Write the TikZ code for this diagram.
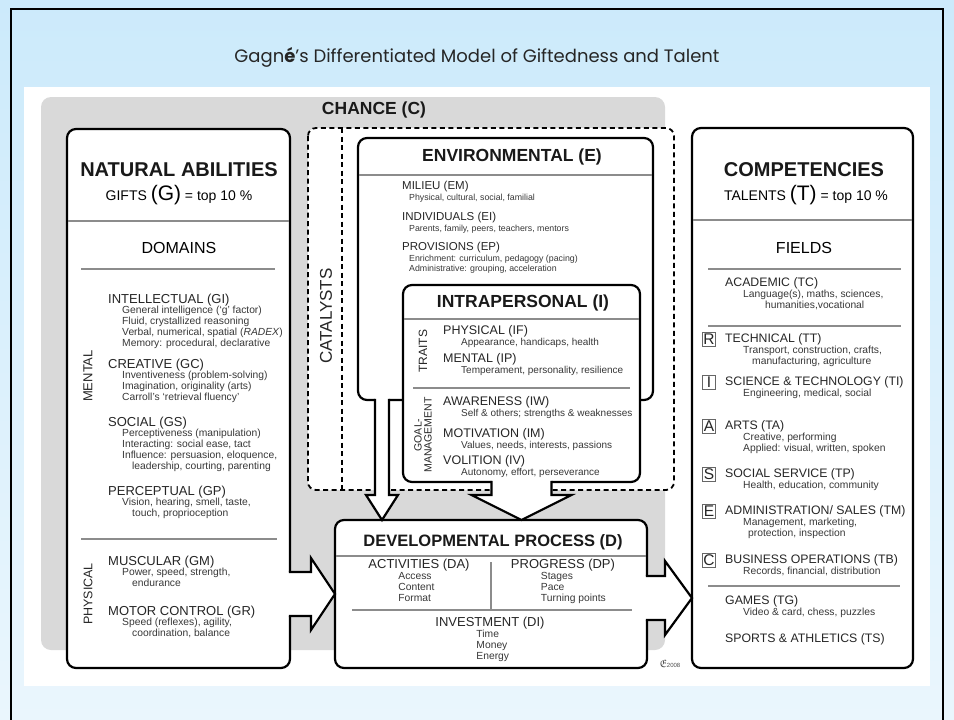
\documentclass[tikz,border=0pt]{standalone}
\usepackage{fontspec}
\usepackage{amssymb}
\setmainfont{Liberation Sans}
\newfontfamily\titlefont{Poppins}
\usetikzlibrary{positioning,calc}

\definecolor{skytop}{HTML}{CCEAFB}
\definecolor{skybottom}{HTML}{EAF6FD}

\tikzset{
  panelbox/.style={draw=black, line width=2.2pt, rounded corners=9pt, fill=white, inner sep=0, outer sep=0},
  seprule/.style={draw=black!45, line width=1.3pt},
  fullrule/.style={seprule, shorten <=1.1pt, shorten >=1.1pt},
  bigtitle/.style={font=\bfseries\fontsize{20}{22}\selectfont, text=black!90, inner sep=0},
  midtitle/.style={font=\bfseries\fontsize{17.5}{20}\selectfont, text=black!90, inner sep=0},
  grouphd/.style={font=\fontsize{13}{15}\selectfont, text=black!85, anchor=west, inner sep=0},
  fieldhd/.style={grouphd, font=\fontsize{12.3}{14}\selectfont},
  innerhd/.style={grouphd, font=\fontsize{12.5}{14}\selectfont},
  envhd/.style={grouphd, font=\fontsize{11.5}{13}\selectfont},
  detail/.style={font=\fontsize{10.3}{11}\selectfont, text=black!78, align=left, inner sep=0},
  finedetail/.style={font=\fontsize{8.8}{10.5}\selectfont, text=black!78, align=left, inner sep=0},
  sidelabel/.style={font=\fontsize{13}{14}\selectfont, text=black!85, rotate=90, inner sep=0},
  letterbox/.style={draw=black!60, line width=0.7pt, font=\fontsize{15.5}{15.5}\selectfont, inner sep=0, minimum width=12.5pt, minimum height=14pt, text=black!85},
  catdash/.style={line width=1.8pt, dash pattern=on 5pt off 3.5pt},
  blockarrow/.style={draw=black, line width=2.2pt, line join=miter},
}

\begin{document}
\begin{tikzpicture}[x=1pt, y=-1pt]
    % slide
    \useasboundingbox (0,0) rectangle (954,720);
    \shade[top color=skytop, bottom color=skybottom] (0,0) rectangle (954,720);
    \draw[line width=2pt] (11,720) -- (11,9) -- (943,9) -- (943,720);
    \node[font=\titlefont\fontsize{18}{21}\selectfont, text=black!85] (title) at (477,57) {Gagn\textbf{é}’s Differentiated Model of Giftedness and Talent};
    \fill[white] (24,87) rectangle (930,686);

    % Chance
    \fill[black!15, rounded corners=10pt] (41,97) rectangle (665,650);
    \node[midtitle] (chance) at (374,110) {CHANCE (C)};

    % Catalysts
    \filldraw[catdash, fill=white, rounded corners=8pt] (308,128) rectangle (674,490);
    \draw[catdash] (342,128) -- (342,490);
    \node[sidelabel, font=\fontsize{17}{18}\selectfont] (catalysts) at (326,316) {CATALYSTS};

    % boxes
    \node[panelbox, minimum width=295pt, minimum height=262pt] (en) at (505.5,269) {};
    \node[panelbox, minimum width=237pt, minimum height=197pt] (ip) at (521.5,383.5) {};
    \node[panelbox, minimum width=223pt, minimum height=539pt] (na) at (178.5,398.5) {};
    \node[panelbox, minimum width=221pt, minimum height=540pt] (co) at (802.5,398) {};
    \node[panelbox, minimum width=312pt, minimum height=148pt] (dv) at (491,594) {};

    % Natural abilities -> developmental process
    \coordinate (nx) at (na.east |- dv.west);
    \fill[white] ($(nx)+(-2.5,-22)$) -- ($(nx)+(21,-22)$) -- ($(nx)+(21,-36)$) -- (dv.west) -- ($(nx)+(21,36)$) -- ($(nx)+(21,22)$) -- ($(nx)+(-2.5,22)$) -- cycle;
    \draw[blockarrow] ($(nx)+(-1.1,-22)$) -- ($(nx)+(21,-22)$) -- ($(nx)+(21,-36)$) -- (dv.west) -- ($(nx)+(21,36)$) -- ($(nx)+(21,22)$) -- ($(nx)+(-1.1,22)$);

    % Developmental process -> competencies
    \coordinate (dx) at ($(dv.east)+(0,4)$);
    \coordinate (dt) at (co.west |- dx);
    \fill[white] ($(dx)+(-2.5,-22)$) -- ($(dx)+(18,-22)$) -- ($(dx)+(18,-37)$) -- (dt) -- ($(dx)+(18,37)$) -- ($(dx)+(18,22)$) -- ($(dx)+(-2.5,22)$) -- cycle;
    \draw[blockarrow] ($(dx)+(-1.1,-22)$) -- ($(dx)+(18,-22)$) -- ($(dx)+(18,-37)$) -- (dt) -- ($(dx)+(18,37)$) -- ($(dx)+(18,22)$) -- ($(dx)+(-1.1,22)$);

    % Environmental -> developmental process
    \coordinate (ex) at ($(en.south west)+(24,0)$);
    \coordinate (et) at (ex |- dv.north);
    \fill[white] ($(ex)+(-7,-2.5)$) -- ($(et)+(-7,-25)$) -- ($(et)+(-16,-25)$) -- (et) -- ($(et)+(16,-25)$) -- ($(et)+(7,-25)$) -- ($(ex)+(7,-2.5)$) -- cycle;
    \draw[blockarrow] ($(ex)+(-7,-1.1)$) -- ($(et)+(-7,-25)$) -- ($(et)+(-16,-25)$) -- (et) -- ($(et)+(16,-25)$) -- ($(et)+(7,-25)$) -- ($(ex)+(7,-1.1)$);

    % Intrapersonal -> developmental process
    \coordinate (ix) at (ip.south);
    \coordinate (it) at (ix |- dv.north);
    \fill[white] ($(ix)+(-30,-2.5)$) -- ($(it)+(-30,-25)$) -- ($(it)+(-50,-25)$) -- (it) -- ($(it)+(50,-25)$) -- ($(it)+(30,-25)$) -- ($(ix)+(30,-2.5)$) -- cycle;
    \draw[blockarrow] ($(ix)+(-30,-1.1)$) -- ($(it)+(-30,-25)$) -- ($(it)+(-50,-25)$) -- (it) -- ($(it)+(50,-25)$) -- ($(it)+(30,-25)$) -- ($(ix)+(30,-1.1)$);

    % Natural abilities
    \node[bigtitle] (na-t) at (179,170) {NATURAL ABILITIES};
    \node[font=\fontsize{14}{16}\selectfont, inner sep=0] (na-g) at (179,195) {GIFTS {\fontsize{21}{21}\selectfont(G)} = top 10 \%};
    \draw[fullrule] (na.west |- 0,221) -- (na.east |- 0,221);
    \node[font=\fontsize{16}{18}\selectfont, inner sep=0] (domains) at (179,248) {DOMAINS};
    \draw[seprule] (81,269) -- (275,269);
    \node[grouphd] (gi) at (108,300) {INTELLECTUAL (GI)};
    \node[detail, below right=0pt and 14pt of gi.south west] (gi-d) {General intelligence (‘g’ factor)\\Fluid, crystallized reasoning\\Verbal, numerical, spatial (\textit{RADEX})\\Memory: procedural, declarative};
    \node[grouphd] (gc) at (108,365) {CREATIVE (GC)};
    \node[detail, below right=0pt and 14pt of gc.south west] (gc-d) {Inventiveness (problem-solving)\\Imagination, originality (arts)\\Carroll’s ‘retrieval fluency’};
    \node[grouphd] (gs) at (108,423) {SOCIAL (GS)};
    \node[detail, below right=0pt and 14pt of gs.south west] (gs-d) {Perceptiveness (manipulation)\\Interacting: social ease, tact\\Influence: persuasion, eloquence,\\\hspace*{10pt}leadership, courting, parenting};
    \node[grouphd] (gp) at (108,492) {PERCEPTUAL (GP)};
    \node[detail, below right=0pt and 14pt of gp.south west] (gp-d) {Vision, hearing, smell, taste,\\\hspace*{10pt}touch, proprioception};
    \draw[seprule] (81,539) -- (277,539);
    \node[grouphd] (gm) at (108,562) {MUSCULAR (GM)};
    \node[detail, below right=0pt and 14pt of gm.south west] (gm-d) {Power, speed, strength,\\\hspace*{10pt}endurance};
    \node[grouphd] (gr) at (108,612) {MOTOR CONTROL (GR)};
    \node[detail, below right=0pt and 14pt of gr.south west] (gr-d) {Speed (reflexes), agility,\\\hspace*{10pt}coordination, balance};
    \node[sidelabel] (mental) at (88,376) {MENTAL};
    \node[sidelabel, font=\fontsize{12.5}{14}\selectfont] (physical) at (88,594) {PHYSICAL};

    % Environmental
    \node[midtitle] (en-t) at (512,157) {ENVIRONMENTAL (E)};
    \draw[fullrule] (en.west |- 0,175) -- (en.east |- 0,175);
    \node[envhd] (em) at (402,187) {MILIEU (EM)};
    \node[finedetail, below right=1pt and 7pt of em.south west] (em-d) {Physical, cultural, social, familial};
    \node[envhd] (ei) at (402,218) {INDIVIDUALS (EI)};
    \node[finedetail, below right=1pt and 7pt of ei.south west] (ei-d) {Parents, family, peers, teachers, mentors};
    \node[envhd] (ep) at (402,248) {PROVISIONS (EP)};
    \node[finedetail, below right=1pt and 7pt of ep.south west] (ep-d) {Enrichment: curriculum, pedagogy (pacing)\\Administrative: grouping, acceleration};

    % Intrapersonal
    \node[midtitle] (ip-t) at (523,303) {INTRAPERSONAL (I)};
    \draw[fullrule] (ip.west |- 0,319) -- (ip.east |- 0,319);
    \node[sidelabel, font=\fontsize{12}{13}\selectfont] (traits) at (423,351) {TRAITS};
    \node[innerhd] (if) at (443,331) {PHYSICAL (IF)};
    \node[detail, font=\fontsize{10}{11}\selectfont, below right=1pt and 18pt of if.south west] (if-d) {Appearance, handicaps, health};
    \node[innerhd] (ipm) at (443,359) {MENTAL (IP)};
    \node[detail, font=\fontsize{10}{11}\selectfont, below right=1pt and 18pt of ipm.south west] (ipm-d) {Temperament, personality, resilience};
    \draw[seprule] (413,388) -- (630,388);
    \node[sidelabel, font=\fontsize{10.5}{10}\selectfont, align=center] (goal) at (423,435) {GOAL-\\MANAGEMENT};
    \node[innerhd] (iw) at (443,402) {AWARENESS (IW)};
    \node[detail, font=\fontsize{10}{11}\selectfont, below right=1pt and 18pt of iw.south west] (iw-d) {Self \& others; strengths \& weaknesses};
    \node[innerhd] (im) at (443,434) {MOTIVATION (IM)};
    \node[detail, font=\fontsize{10}{11}\selectfont, below right=1pt and 18pt of im.south west] (im-d) {Values, needs, interests, passions};
    \node[innerhd] (iv) at (443,461) {VOLITION (IV)};
    \node[detail, font=\fontsize{10}{11}\selectfont, below right=1pt and 18pt of iv.south west] (iv-d) {Autonomy, effort, perseverance};

    % Developmental process
    \node[font=\bfseries\fontsize{16.5}{19}\selectfont, text=black!90, inner sep=0] (dv-t) at (493,542) {DEVELOPMENTAL PROCESS (D)};
    \draw[fullrule] (dv.west |- 0,556) -- (dv.east |- 0,556);
    \node[grouphd, anchor=center] (da) at (419,565) {ACTIVITIES (DA)};
    \node[detail, below right=1pt and 30pt of da.south west] (da-d) {Access\\Content\\Format};
    \draw[seprule] (491,562) -- (491,609);
    \node[grouphd, anchor=center] (dp) at (563,565) {PROGRESS (DP)};
    \node[detail, below right=1pt and 30pt of dp.south west] (dp-d) {Stages\\Pace\\Turning points};
    \draw[seprule] (352,610) -- (632,610);
    \node[grouphd, anchor=center] (di) at (490,623) {INVESTMENT (DI)};
    \node[detail, below right=1pt and 41pt of di.south west] (di-d) {Time\\Money\\Energy};
    \node[font=\fontsize{6}{6}\selectfont, text=black!70, inner sep=0] (logo) at (670,664) {{\fontsize{11}{11}\selectfont$\mathfrak{E}$}2008};

    % Competencies
    \node[bigtitle] (co-t) at (804,170) {COMPETENCIES};
    \node[font=\fontsize{14}{16}\selectfont, inner sep=0] (co-g) at (806,195) {TALENTS {\fontsize{21}{21}\selectfont(T)} = top 10 \%};
    \draw[fullrule] (co.west |- 0,220) -- (co.east |- 0,220);
    \node[font=\fontsize{16}{18}\selectfont, inner sep=0] (fields) at (804,248) {FIELDS};
    \draw[seprule] (708,269) -- (901,269);
    \node[fieldhd] (tc) at (725,283) {ACADEMIC (TC)};
    \node[detail, below right=1pt and 18pt of tc.south west] (tc-d) {Language(s), maths, sciences,\\\hspace*{22pt}humanities,vocational};
    \draw[seprule] (708,326) -- (901,326);
    \node[fieldhd] (tt) at (725,339) {TECHNICAL (TT)};
    \node[detail, below right=1pt and 18pt of tt.south west] (tt-d) {Transport, construction, crafts,\\\hspace*{9pt}manufacturing, agriculture};
    \node[fieldhd] (ti) at (725,382) {SCIENCE \& TECHNOLOGY (TI)};
    \node[detail, below right=1pt and 18pt of ti.south west] (ti-d) {Engineering, medical, social};
    \node[fieldhd] (ta) at (725,426) {ARTS (TA)};
    \node[detail, below right=1pt and 18pt of ta.south west] (ta-d) {Creative, performing\\Applied: visual, written, spoken};
    \node[fieldhd] (tp) at (725,474) {SOCIAL SERVICE (TP)};
    \node[detail, below right=1pt and 18pt of tp.south west] (tp-d) {Health, education, community};
    \node[fieldhd] (tm) at (725,511) {ADMINISTRATION/ SALES (TM)};
    \node[detail, below right=1pt and 18pt of tm.south west] (tm-d) {Management, marketing,\\\hspace*{5pt}protection, inspection};
    \node[fieldhd] (tb) at (725,560) {BUSINESS OPERATIONS (TB)};
    \node[detail, below right=1pt and 18pt of tb.south west] (tb-d) {Records, financial, distribution};
    \draw[seprule] (708,586) -- (900,586);
    \node[fieldhd] (tg) at (725,601) {GAMES (TG)};
    \node[detail, below right=1pt and 18pt of tg.south west] (tg-d) {Video \& card, chess, puzzles};
    \node[fieldhd] (ts) at (725,639) {SPORTS \& ATHLETICS (TS)};
    \node[letterbox] (let-r) at (709,339) {R};
    \node[letterbox] (let-i) at (709,382) {I};
    \node[letterbox] (let-a) at (709,426) {A};
    \node[letterbox] (let-s) at (709,474) {S};
    \node[letterbox] (let-e) at (709,511) {E};
    \node[letterbox] (let-c) at (709,560) {C};
\end{tikzpicture}
\end{document}
